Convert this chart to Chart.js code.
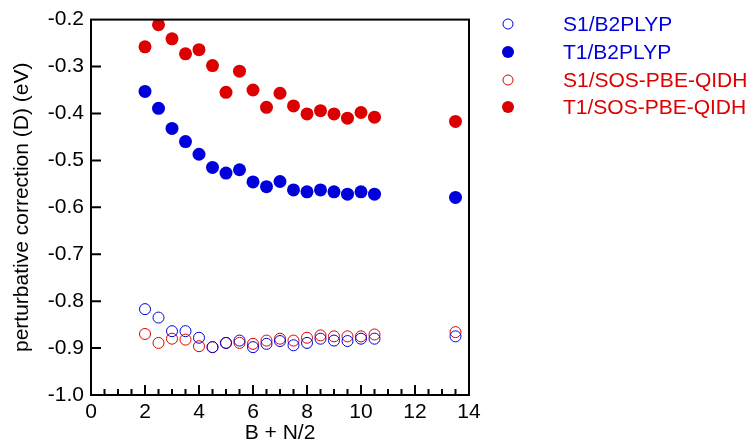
<!DOCTYPE html>
<html>
<head>
<meta charset="utf-8">
<script src="https://cdn.jsdelivr.net/npm/chart.js@4"></script>
<style>
  html, body { margin: 0; padding: 0; background: #fff; }
  #wrap { width: 753px; height: 445px; }
</style>
</head>
<body>
<div id="wrap"><canvas id="myChart" width="753" height="445"></canvas></div>
<script>
"use strict";
// B + N/2 values
const xValues = [2, 2.5, 3, 3.5, 4, 4.5, 5, 5.5, 6, 6.5, 7, 7.5, 8, 8.5, 9, 9.5, 10, 10.5, 13.5];

const s1B2plyp = [-0.817, -0.835, -0.864, -0.864, -0.878, -0.898, -0.889, -0.884, -0.898, -0.891,
    -0.885, -0.894, -0.889, -0.880, -0.884, -0.885, -0.880, -0.880, -0.875];
const t1B2plyp = [-0.353, -0.389, -0.432, -0.460, -0.487, -0.515, -0.527, -0.520, -0.546, -0.556,
    -0.545, -0.563, -0.567, -0.563, -0.567, -0.572, -0.567, -0.572, -0.579];
const s1Sos = [-0.870, -0.889, -0.880, -0.882, -0.896, -0.898, -0.889, -0.889, -0.891, -0.884,
    -0.880, -0.884, -0.878, -0.873, -0.875, -0.875, -0.875, -0.871, -0.866];
const t1Sos = [-0.258, -0.211, -0.241, -0.273, -0.264, -0.298, -0.355, -0.310, -0.350, -0.387,
    -0.357, -0.384, -0.401, -0.394, -0.401, -0.410, -0.398, -0.408, -0.417];

const seriesNames = ["S1/B2PLYP", "T1/B2PLYP", "S1/SOS-PBE-QIDH", "T1/SOS-PBE-QIDH"];

const xTicks = [0, 2, 4, 6, 8, 10, 12, 14];
const yTicks = [-1.0, -0.9, -0.8, -0.7, -0.6, -0.5, -0.4, -0.3, -0.2];

const BLUE = "#0000dd";
const RED = "#dd0000";
const FONT = "'Liberation Sans', Arial, sans-serif";
const FSIZE = 21;

function toPoints(ys) {
    return xValues.map((x, i) => ({ x: x, y: ys[i] }));
}

function openSet(label, ys, color) {
    return {
        label: label,
        data: toPoints(ys),
        pointStyle: "circle",
        pointRadius: 5.5,
        pointBorderWidth: 1,
        pointBackgroundColor: "rgba(0,0,0,0)",
        pointBorderColor: color,
        backgroundColor: color,
        borderColor: color
    };
}

function filledSet(label, ys, color) {
    return {
        label: label,
        data: toPoints(ys),
        pointStyle: "circle",
        pointRadius: 6.5,
        pointBorderWidth: 0,
        pointBackgroundColor: color,
        pointBorderColor: color,
        backgroundColor: color,
        borderColor: color
    };
}

// frame, inward ticks and the legend at the right
const framePlugin = {
    id: "frame",
    afterDraw(chart) {
        const ctx = chart.ctx;
        const a = chart.chartArea;
        const xs = chart.scales.x;
        const ys = chart.scales.y;
        ctx.save();
        ctx.strokeStyle = "#000";
        ctx.lineWidth = 2;
        ctx.strokeRect(a.left, a.top, a.right - a.left, a.bottom - a.top);

        ctx.beginPath();
        for (let v = 0.5; v < 14; v += 0.5) {
            const px = xs.getPixelForValue(v);
            const len = (v % 2 === 0) ? 10 : 6;
            ctx.moveTo(px, a.bottom);
            ctx.lineTo(px, a.bottom - len);
        }
        yTicks.forEach(v => {
            if (v === -1.0 || v === -0.2) return;
            const py = ys.getPixelForValue(v);
            ctx.moveTo(a.left, py);
            ctx.lineTo(a.left + 10, py);
        });
        ctx.stroke();

        // legend
        const lx = 508;
        const tx = 563;
        const rows = [24, 52, 80, 107];
        ctx.font = FSIZE + "px " + FONT;
        ctx.textBaseline = "middle";
        ctx.textAlign = "left";
        chart.data.datasets.forEach((ds, i) => {
            const color = ds.borderColor;
            ctx.beginPath();
            ctx.arc(lx, rows[i], i % 2 === 0 ? 5 : 6, 0, Math.PI * 2);
            if (i % 2 === 0) {
                ctx.lineWidth = 1;
                ctx.strokeStyle = color;
                ctx.stroke();
            } else {
                ctx.fillStyle = color;
                ctx.fill();
            }
            ctx.fillStyle = color;
            ctx.fillText(ds.label, tx, rows[i] + 1);
        });
        ctx.restore();
    }
};

const graphicObject = {
    type: "scatter",
    data: {
        datasets: [
            openSet(seriesNames[0], s1B2plyp, BLUE),
            filledSet(seriesNames[1], t1B2plyp, BLUE),
            openSet(seriesNames[2], s1Sos, RED),
            filledSet(seriesNames[3], t1Sos, RED)
        ]
    },
    options: {
        responsive: false,
        animation: false,
        layout: { padding: { top: 16, right: 284, left: 0, bottom: 0 } },
        plugins: {
            legend: { display: false },
            tooltip: { enabled: false }
        },
        scales: {
            x: {
                type: "linear",
                min: 0,
                max: 14,
                afterFit: s => { s.height = 50; },
                afterBuildTicks: s => { s.ticks = xTicks.map(v => ({ value: v })); },
                grid: { display: false, drawTicks: false },
                border: { display: false },
                ticks: {
                    color: "#000",
                    padding: 5,
                    font: { family: FONT, size: FSIZE },
                    callback: v => String(v)
                },
                title: {
                    display: true,
                    text: "B + N/2",
                    color: "#000",
                    font: { family: FONT, size: FSIZE },
                    padding: { top: 0, bottom: -1 }
                }
            },
            y: {
                type: "linear",
                min: -1.0,
                max: -0.2,
                afterFit: s => { s.width = 91; },
                afterBuildTicks: s => { s.ticks = yTicks.map(v => ({ value: v })); },
                grid: { display: false, drawTicks: false },
                border: { display: false },
                ticks: {
                    color: "#000",
                    padding: 7,
                    font: { family: FONT, size: FSIZE },
                    callback: v => v.toFixed(1)
                },
                title: {
                    display: true,
                    text: "perturbative correction (D) (eV)",
                    color: "#000",
                    font: { family: FONT, size: FSIZE },
                    padding: { top: 10, bottom: 0 }
                }
            }
        }
    },
    plugins: [framePlugin]
};

new Chart(document.getElementById("myChart"), graphicObject);
</script>
</body>
</html>
